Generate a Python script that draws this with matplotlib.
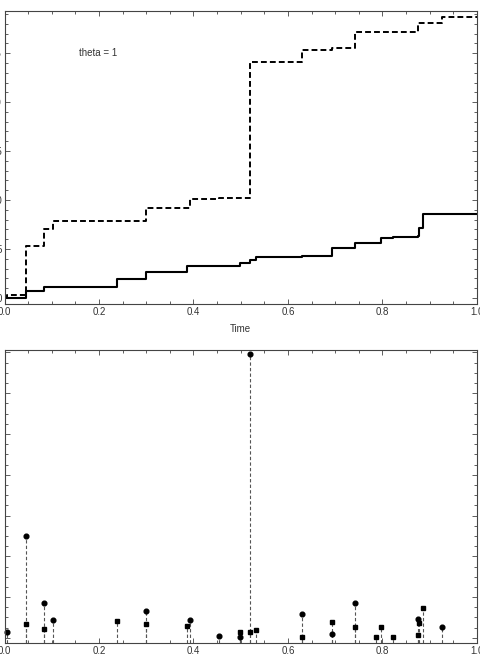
import numpy as np
import matplotlib
matplotlib.use("Agg")
import matplotlib.pyplot as plt
from matplotlib.ticker import MultipleLocator, NullFormatter

plt.rcParams["font.family"] = ["Liberation Sans", "DejaVu Sans"]

# --- data: jump times and jump sizes ---
solid_times = [0.0455, 0.083, 0.238, 0.2995, 0.387, 0.498, 0.5196, 0.533, 0.629,
               0.694, 0.742, 0.786, 0.796, 0.823, 0.875, 0.877, 0.886]
solid_jumps = [0.70, 0.46, 0.82, 0.67, 0.60, 0.30, 0.29, 0.39, 0.05,
               0.78, 0.54, 0.02, 0.55, 0.05, 0.13, 0.75, 1.46]

dashed_times = [0.006, 0.0455, 0.083, 0.103, 0.2995, 0.392, 0.454, 0.498, 0.5196,
                0.629, 0.694, 0.742, 0.876, 0.927]
dashed_jumps = [0.29, 5.01, 1.73, 0.87, 1.33, 0.87, 0.10, 0.03, 13.90,
                1.15, 0.20, 1.70, 0.92, 0.55]

annot = "theta = 1"
xlabel = "Time"
xticks = [0.0, 0.2, 0.4, 0.6, 0.8, 1.0]
top_yticks = [0, 5, 10, 15, 20, 25]

spine_col = "#444444"
text_col = "#333333"

fig = plt.figure(figsize=(4.81, 6.59), dpi=100)
ax1 = fig.add_axes([0.00936, 0.5387, 0.9823, 0.4446])
ax2 = fig.add_axes([0.00936, 0.0243, 0.9823, 0.4446])


def style_axes(ax):
    for s in ax.spines.values():
        s.set_color(spine_col)
        s.set_linewidth(0.8)
    ax.tick_params(which="both", direction="in", top=True, right=True,
                   colors=spine_col, labelcolor=text_col, labelsize=7, width=0.6)
    ax.tick_params(which="major", length=3.5, pad=2)
    ax.tick_params(which="minor", length=2)
    ax.set_xlim(0, 1)
    ax.set_xticks(xticks)
    ax.xaxis.set_minor_locator(MultipleLocator(0.05))


# --- top panel: cumulative step paths ---
def step_path(times, jumps):
    x = np.concatenate([[0.0], times, [1.0]])
    y = np.concatenate([[0.0], np.cumsum(jumps)])
    y = np.append(y, y[-1])
    return x, y

xs, ys = step_path(solid_times, solid_jumps)
xd, yd = step_path(dashed_times, dashed_jumps)
ax1.step(xs, ys, where="post", color="black", lw=1.5)
ax1.step(xd, yd, where="post", color="black", lw=1.4, linestyle=(0, (3, 1.6)))

style_axes(ax1)
ax1.set_ylim(-0.61, 29.3)
ax1.set_yticks(top_yticks)
ax1.yaxis.set_minor_locator(MultipleLocator(1))
ax1.set_xlabel(xlabel, fontsize=7, color=text_col, labelpad=5)
ax1.text(0.198, 25, annot, fontsize=7, color=text_col, ha="center", va="center")

# --- bottom panel: jump sizes with dashed stems ---
ybot = -0.25
ax2.vlines(solid_times, ybot, solid_jumps, colors="#555555", lw=0.8,
           linestyles=(0, (3, 2)))
ax2.vlines(dashed_times, ybot, dashed_jumps, colors="#555555", lw=0.8,
           linestyles=(0, (3, 2)))
ax2.plot(solid_times, solid_jumps, "s", color="black", ms=3.0, clip_on=False)
ax2.plot(dashed_times, dashed_jumps, "o", color="black", ms=3.4, clip_on=False)

style_axes(ax2)
ax2.set_ylim(ybot, 14.12)
ax2.yaxis.set_major_locator(MultipleLocator(2))
ax2.yaxis.set_minor_locator(MultipleLocator(0.5))
ax2.yaxis.set_major_formatter(NullFormatter())

fig.savefig("out.png", dpi=100)
plt.close(fig)
